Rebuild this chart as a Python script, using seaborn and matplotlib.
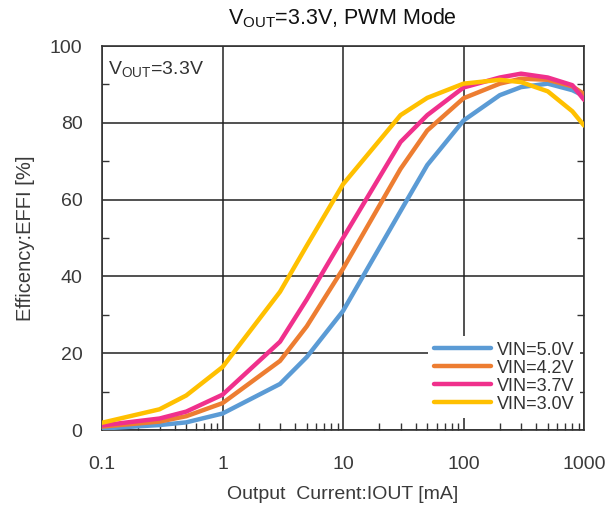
import matplotlib
matplotlib.use("Agg")
import matplotlib.pyplot as plt
from matplotlib.ticker import LogLocator, FixedLocator, NullFormatter
import seaborn as sns
import pandas as pd

# output current [mA]
iout = [0.1, 0.3, 0.5, 1, 3, 5, 10, 30, 50, 100, 200, 300, 500, 800, 1000]

eff_50 = [0.4, 1.3, 2.0, 4.3, 12, 19, 31, 57, 69, 80.6, 87.2, 89.3, 90.2, 88.5, 87]
eff_42 = [0.9, 2.2, 3.6, 7.0, 18, 27, 42, 68, 78, 86.4, 90.2, 91.5, 91.2, 89.5, 87.5]
eff_37 = [1.2, 3.0, 4.8, 9.2, 23, 34, 50, 75, 82, 89.2, 91.8, 92.8, 91.8, 89.8, 86]
eff_30 = [1.9, 5.4, 9.0, 16.4, 36, 48, 64, 82, 86.5, 90.2, 91.2, 90.6, 88.2, 83, 79.3]

labels = ["VIN=5.0V", "VIN=4.2V", "VIN=3.7V", "VIN=3.0V"]
colors = ["#5b9bd5", "#ed7d31", "#f0308c", "#ffc000"]

rows = []
for lab, ys in zip(labels, [eff_50, eff_42, eff_37, eff_30]):
    for x, y in zip(iout, ys):
        rows.append({"Iout": x, "Eff": y, "VIN": lab})
df = pd.DataFrame(rows)

sns.set_style("white")
plt.rcParams["font.family"] = ["Liberation Sans", "DejaVu Sans"]

fig = plt.figure(figsize=(6.09, 5.20), dpi=100)
ax = fig.add_axes([0.1675, 0.173, 0.7915, 0.7385])

sns.lineplot(data=df, x="Iout", y="Eff", hue="VIN", hue_order=labels,
             palette=colors, linewidth=3.2, ax=ax, zorder=3)

ax.set_xscale("log")
ax.set_xlim(0.1, 1000)
ax.set_ylim(0, 100)
ax.set_xticks([0.1, 1, 10, 100, 1000])
ax.set_xticklabels(["0.1", "1", "10", "100", "1000"])
ax.xaxis.set_minor_locator(LogLocator(base=10, subs=range(2, 10), numticks=20))
ax.xaxis.set_minor_formatter(NullFormatter())
ax.set_yticks([0, 20, 40, 60, 80, 100])
ax.yaxis.set_minor_locator(FixedLocator([10, 30, 50, 70, 90]))

ax.grid(True, which="major", color="#222222", linewidth=1.1, zorder=1)
ax.tick_params(axis="both", which="both", direction="in", colors="#333333",
               labelcolor="#3a3a3a", labelsize=14)
ax.tick_params(axis="x", which="major", length=0, pad=19)
ax.tick_params(axis="y", which="major", length=0, pad=14)
ax.tick_params(axis="x", which="minor", length=5, width=1, bottom=True, top=False)
ax.tick_params(axis="y", which="minor", length=5, width=1, left=True, right=True)
for s in ax.spines.values():
    s.set_color("#333333")
    s.set_linewidth(1.2)

ax.set_xlabel("Output  Current:IOUT [mA]", fontsize=14, color="#3a3a3a", labelpad=9)
ax.set_ylabel("Efficency:EFFI [%]", fontsize=14.5, color="#3a3a3a", labelpad=11)
fig.text(0.562, 0.965, r"V$_{\mathregular{OUT}}$=3.3V, PWM Mode", ha="center", va="center",
         fontsize=15.5, color="#111111")
ax.text(0.012, 0.965, r"V$_{\mathregular{OUT}}$=3.3V", transform=ax.transAxes,
        ha="left", va="top", fontsize=14, color="#333333",
        bbox=dict(facecolor="white", edgecolor="none", pad=1))

leg = ax.legend(loc="lower right", bbox_to_anchor=(1.01, 0.008), frameon=True,
                fontsize=13, handlelength=3.2, handletextpad=0.3, labelspacing=0.05,
                borderpad=0.3, fancybox=False)
leg.get_frame().set_edgecolor("none")
leg.get_frame().set_facecolor("white")
leg.get_frame().set_alpha(1)
leg.set_zorder(5)
for t in leg.get_texts():
    t.set_color("#333333")

fig.savefig("out.png", dpi=100)
